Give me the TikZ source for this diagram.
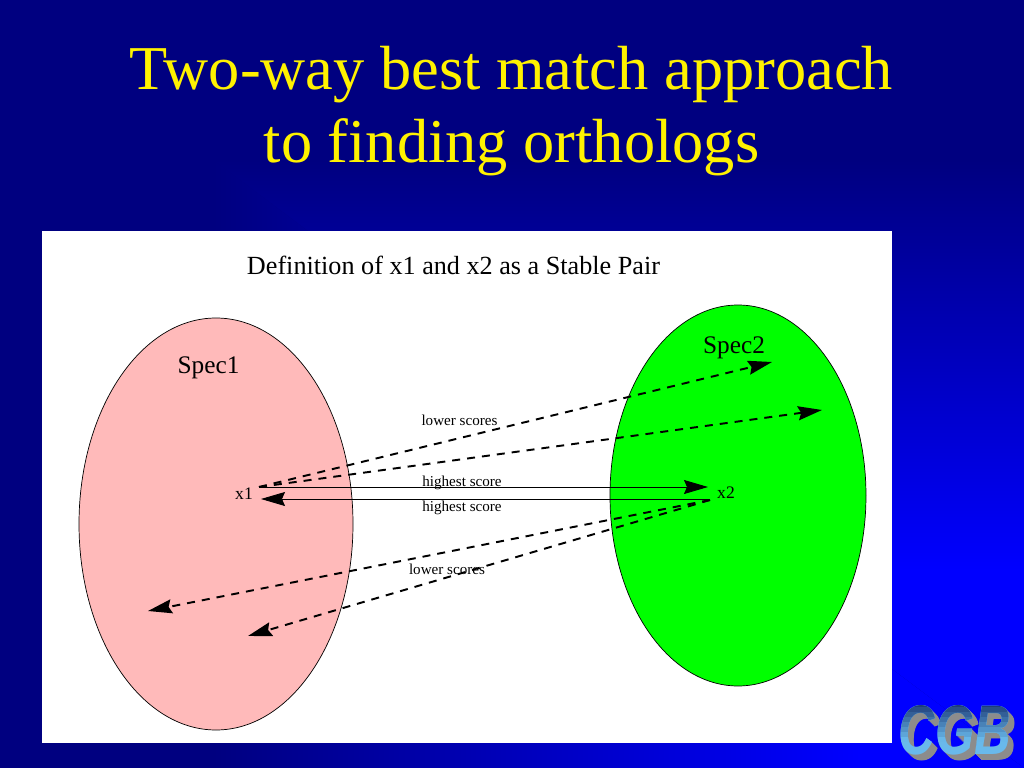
\documentclass[tikz,border=0pt]{standalone}
\usepackage{fontspec}
\setmainfont{Liberation Serif}
\newfontfamily\logofont{Liberation Sans}
\usetikzlibrary{arrows.meta}
\usetikzlibrary{shapes.geometric}
\usetikzlibrary{fadings}
\definecolor{slidetop}{RGB}{0,0,128}
\definecolor{slidebottom}{RGB}{0,0,255}
\definecolor{specpink}{RGB}{255,186,186}
\definecolor{specgreen}{RGB}{0,255,0}
\definecolor{logolight}{RGB}{105,185,235}
\definecolor{logodark}{RGB}{30,60,120}
\tikzset{logotext/.style={font=\logofont\bfseries\itshape\fontsize{20}{20}\selectfont, xscale=0.72, inner sep=0pt}}
\begin{tikzfadingfrompicture}[name=logofade]
	\node[logotext, text=transparent!0] {CGB};
\end{tikzfadingfrompicture}
\begin{document}
\begin{tikzpicture}[x=1cm, y=-1cm,
			title/.style={text=yellow, font=\fontsize{17.75}{21}\selectfont, align=center},
			spec/.style={draw, ellipse, inner sep=0pt, line width=0.2pt},
			label/.style={font=\fontsize{7.2}{8}\selectfont, text=black, inner sep=0pt},
			xlabel/.style={font=\fontsize{5}{6}\selectfont, text=black, inner sep=0pt},
			small/.style={font=\fontsize{4.3}{5}\selectfont, text=black, inner sep=0pt},
			best/.style={->, >={Stealth[length=0.24cm, width=0.14cm, inset=0.03cm]}, line width=0.25pt},
			other/.style={best, line width=0.55pt, dash pattern=on 0.08cm off 0.07cm}]
			\useasboundingbox (0, 0) rectangle (10.24, 7.68);
			
			% background, darkest away from the lower right corner
			\fill[slidetop] (0, 0) rectangle (10.24, 7.68);
			\begin{scope}
				\clip (0, 0) -- (10.24, 0) -- (10.24, 7.68) -- cycle;
				\shade[top color=slidetop, bottom color=slidebottom] (0, 1.6) rectangle (10.24, 5.7);
				\fill[slidebottom] (0, 5.7) rectangle (10.24, 7.68);
			\end{scope}
			\begin{scope}
				\clip (0, 0) -- (0, 7.68) -- (10.24, 7.68) -- cycle;
				\shade[left color=slidetop, right color=slidebottom] (2.13, 0) rectangle (8.6, 7.68);
				\fill[slidebottom] (8.6, 0) rectangle (10.24, 7.68);
			\end{scope}
			\fill[white] (0.42, 2.31) rectangle (8.92, 7.43);
			
			\node[title](heading) at (5.115, 1.11) {Two-way best match approach \\ to finding orthologs};
			\node[font=\fontsize{7.45}{9}\selectfont, text=black, inner sep=0pt](caption) at (4.535, 2.65) {Definition of x1 and x2 as a Stable Pair};
			
			\node[spec, fill=specpink, minimum width=2.74cm, minimum height=4.12cm](spec1) at (2.16, 5.24) {};
			\node[spec, fill=specgreen, minimum width=2.56cm, minimum height=3.81cm](spec2) at (7.38, 4.955) {};
			
			\node[label](name1) at (2.085, 3.68) {Spec1};
			\node[label](name2) at (7.34, 3.48) {Spec2};
			\node[xlabel](x1) at (2.44, 4.94) {x1};
			\node[xlabel](x2) at (7.26, 4.93) {x2};
			
			% free ends of the arrows
			\coordinate (start1) at (2.59, 4.87);
			\coordinate (start2) at (7.10, 5.00);
			\coordinate (up1) at (7.72, 3.62);
			\coordinate (up2) at (8.22, 4.10);
			\coordinate (down1) at (1.48, 6.11);
			\coordinate (down2) at (2.48, 6.36);
			\coordinate (high1) at (7.08, 4.87);
			\coordinate (high2) at (2.61, 4.99);
			
			\draw[other] (start1) -- (up1);
			\draw[other] (start1) -- (up2);
			\draw[other] (start2) -- (down1);
			\draw[other] (start2) -- (down2);
			\draw[best] (start1) -- (high1);
			\draw[best] (start2 |- high2) -- (high2);
			
			\node[small](low1) at (4.595, 4.20) {lower scores};
			\node[small](high3) at (4.62, 4.83) {highest score};
			\node[small](high4) at (4.62, 5.08) {highest score};
			\node[small](low2) at (4.47, 5.69) {lower scores};
			
			% logo, grey sides and a front in strips
			\foreach \i in {6,5,...,1}
				\fill[black!45, path fading=logofade, fit fading=false, fading transform={shift={(9.55+0.01*\i, 7.30+0.01*\i)}}] (8.95, 6.95) rectangle (10.24, 7.68);
			\node[logotext, text=logolight](logo) at (9.55, 7.30) {CGB};
			\foreach \i in {0,...,7} {
				\pgfmathsetmacro{\mix}{\i*14}
				\fill[logolight!\mix!logodark, path fading=logofade, fit fading=false, fading transform={shift={(9.55, 7.30)}}] (8.95, 7.02+0.05*\i) rectangle (10.15, 7.07+0.05*\i);
			}
			\end{tikzpicture}
\end{document}
